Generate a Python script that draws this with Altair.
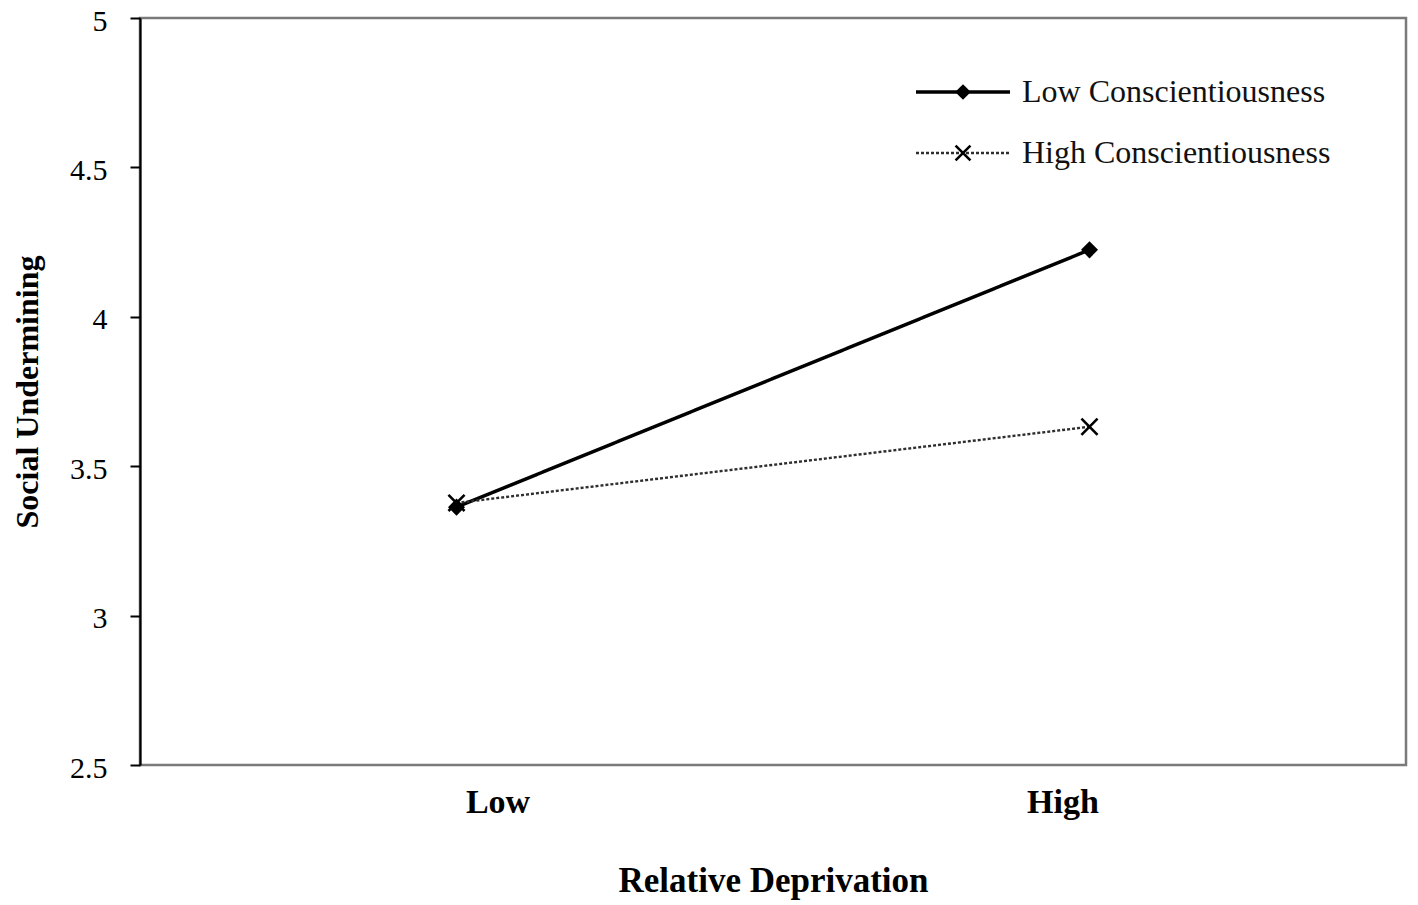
import altair as alt
import pandas as pd

categories = ["Low", "High"]
series_names = ["Low Conscientiousness", "High Conscientiousness"]
low_consc = [3.363, 4.224]
high_consc = [3.377, 3.632]
y_ticks = [2.5, 3, 3.5, 4, 4.5, 5]

rows = []
for name, vals in zip(series_names, [low_consc, high_consc]):
    for c, v in zip(categories, vals):
        rows.append({"cat": c, "series": name, "value": v})
df = pd.DataFrame(rows)

FONT = "Liberation Serif"
W, H = 1266, 747
XMARK = "M-1,-1L1,1M-1,1L1,-1"

styles = {
    "Low Conscientiousness": dict(color="#000000", width=3.5, dash=[1, 0], shape="diamond",
                                  filled=True, size=290, sw=0),
    "High Conscientiousness": dict(color="#2e2e2e", width=2.4, dash=[3, 2], shape=XMARK,
                                   filled=False, size=260, sw=2.6),
}

x_enc = alt.X(
    "cat:N", sort=categories, scale=alt.Scale(type="point", padding=0.5),
    axis=alt.Axis(
        title="Relative Deprivation", labelAngle=0, ticks=False, domain=False, grid=False,
        labelFont=FONT, labelFontSize=34, labelFontWeight="bold", labelColor="black",
        labelPadding=20,
        labelOffset={"condition": {"test": "datum.label == 'Low'", "value": 41}, "value": -27},
        titleFont=FONT, titleFontSize=35, titleFontWeight="bold", titleColor="black",
        titleY=115, titleBaseline="middle",
    ),
)
y_enc = alt.Y(
    "value:Q", scale=alt.Scale(domain=[2.5, 5], nice=False, zero=False),
    axis=alt.Axis(
        title="Social Undermining", values=y_ticks, format="~g", grid=False,
        domainColor="black", domainWidth=2.2, tickColor="black", tickWidth=2, tickSize=10,
        labelFont=FONT, labelFontSize=30, labelColor="black", labelPadding=23, labelOffset=3,
        titleFont=FONT, titleFontSize=32, titleFontWeight="bold", titleColor="black",
        titleX=-113, titleY=H / 2, titleAngle=270, titleAlign="center", titleBaseline="middle",
    ),
)

layers = []
for i, name in enumerate(series_names):
    s = styles[name]
    sub = alt.Chart(df).transform_filter(alt.datum.series == name)
    layers.append(sub.mark_line(color=s["color"], strokeWidth=s["width"], strokeDash=s["dash"])
                  .encode(x=x_enc, y=y_enc))
for i, name in enumerate(series_names):
    s = styles[name]
    sub = alt.Chart(df).transform_filter(alt.datum.series == name)
    layers.append(sub.mark_point(shape=s["shape"], filled=s["filled"], size=s["size"],
                                 color="black", opacity=1, strokeWidth=s["sw"] if s["sw"] else 1)
                  .encode(x=x_enc, y=y_enc))

# legend
for i, name in enumerate(series_names):
    s = styles[name]
    ly = 74 + 61 * i
    ldf = pd.DataFrame({"series": [name]})
    base = alt.Chart(ldf)
    layers.append(base.mark_rule(color=s["color"], strokeWidth=s["width"], strokeDash=s["dash"])
                  .encode(x=alt.value(776), x2=alt.value(870), y=alt.value(ly)))
    layers.append(base.mark_point(shape=s["shape"], filled=s["filled"], size=s["size"] * 0.85,
                                  color="black", opacity=1, strokeWidth=s["sw"] if s["sw"] else 1)
                  .encode(x=alt.value(823), y=alt.value(ly)))
    layers.append(base.mark_text(align="left", baseline="middle", font=FONT, fontSize=32,
                                 color="#111111")
                  .encode(x=alt.value(882), y=alt.value(ly), text="series:N"))

chart = alt.layer(*layers).properties(
    width=W, height=H,
    background="white",
    autosize=alt.AutoSizeParams(type="none"),
    padding={"left": 132, "top": 10, "right": 4, "bottom": 138},
).configure_view(stroke="#7a7a7a", strokeWidth=2.5)

chart.save("out.html", embed_options={"renderer": "svg", "actions": False})
